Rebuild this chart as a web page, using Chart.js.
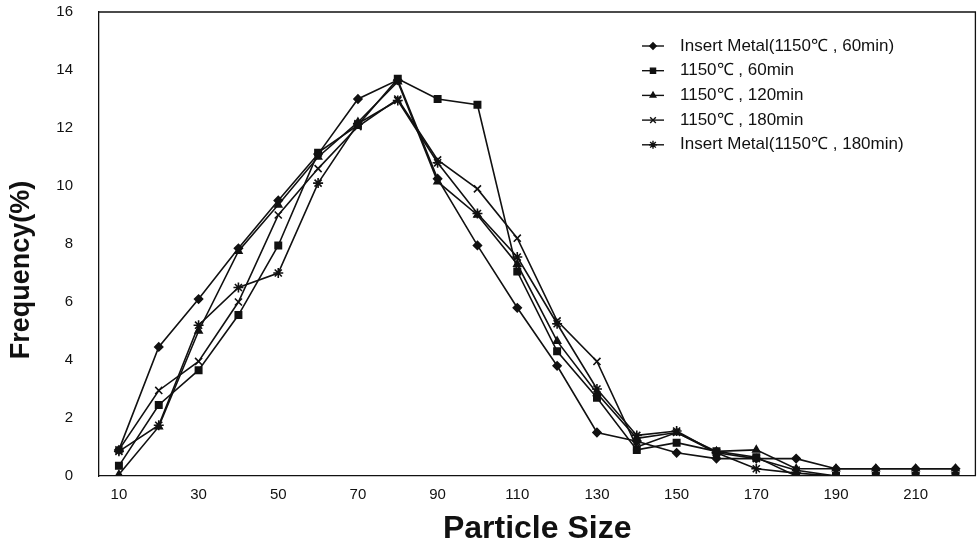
<!DOCTYPE html>
<html>
<head>
<meta charset="utf-8">
<script src="https://cdn.jsdelivr.net/npm/chart.js@4/dist/chart.umd.min.js"></script>
<style>
  html, body { margin: 0; padding: 0; background: #fff; overflow: hidden; width: 978px; height: 548px; }
  #wrap { position: absolute; left: 0; top: -15px; width: 982px; height: 563px; }
</style>
</head>
<body>
<div id="wrap"><canvas id="sizeChart"></canvas></div>
<script>
const sizes = [10, 20, 30, 40, 50, 60, 70, 80, 90, 100, 110, 120, 130, 140, 150, 160, 170, 180, 190, 200, 210, 220]

const insert60 = [0.9, 4.45, 6.1, 7.85, 9.5, 11.1, 13.0, 13.65, 10.25, 7.95, 5.8, 3.8, 1.5, 1.2, 0.8, 0.6, 0.6, 0.6, 0.25, 0.25, 0.25, 0.25]
const run60 = [0.35, 2.45, 3.65, 5.55, 7.95, 11.15, 12.1, 13.7, 13.0, 12.8, 7.05, 4.3, 2.7, 0.9, 1.15, 0.85, 0.65, 0, 0, 0, 0, 0]
const run120 = [0.05, 1.7, 5.0, 7.75, 9.35, 11.0, 12.2, 13.6, 10.15, 9.0, 7.3, 4.65, 2.85, 1.3, 1.5, 0.85, 0.9, 0.25, 0.25, 0.25, 0.25, 0.25]
const run180 = [0.9, 2.95, 3.95, 6.0, 9.0, 10.6, 12.05, 13.0, 10.9, 9.9, 8.2, 5.35, 3.95, 1.0, 1.5, 0.8, 0.6, 0.2, 0, 0, 0, 0]
const insert180 = [0.85, 1.75, 5.2, 6.5, 7.0, 10.1, 12.15, 12.95, 10.8, 9.05, 7.55, 5.25, 3.0, 1.4, 1.55, 0.8, 0.25, 0.1, 0, 0, 0, 0]

const tickLabels = ['10', '30', '50', '70', '90', '110', '130', '150', '170', '190', '210']

const ink = '#111'
const sans = '"Liberation Sans", Arial, sans-serif'
const shiftY = 15 // canvas sits 15px above the page top

function series(label, data, style, radius) {
    return {
        label: label,
        data: data,
        borderColor: ink,
        backgroundColor: ink,
        borderWidth: 1.6,
        pointStyle: style,
        pointRadius: radius,
        pointBorderWidth: 1.6,
        pointBorderColor: ink,
        pointBackgroundColor: ink,
        tension: 0
    }
}

// frame round the plot, y title and the legend inside it
const framePlugin = {
    id: 'frame',
    beforeDatasetsDraw(chart) {
        const a = chart.chartArea
        const c = chart.ctx
        c.save()
        c.strokeStyle = ink
        c.lineWidth = 1.3
        c.beginPath()
        c.moveTo(a.left, a.top)
        c.lineTo(a.right, a.top)
        c.lineTo(a.right, a.bottom)
        c.stroke()
        c.restore()
    },
    afterDraw(chart) {
        const c = chart.ctx
        c.save()
        c.fillStyle = ink
        c.font = 'bold 27px ' + sans
        c.textAlign = 'center'
        c.textBaseline = 'middle'
        c.translate(22, 270 + shiftY)
        c.rotate(-Math.PI / 2)
        c.fillText('Frequency(%)', 0, 0)
        c.restore()

        const x0 = 642, y0 = 46 + shiftY, gap = 24.7
        c.save()
        c.font = '17px ' + sans
        c.textBaseline = 'middle'
        c.fillStyle = ink
        chart.data.datasets.forEach((ds, i) => {
            const y = y0 + i * gap
            c.strokeStyle = ink
            c.lineWidth = 1.4
            c.beginPath()
            c.moveTo(x0, y)
            c.lineTo(x0 + 22, y)
            c.stroke()
            Chart.helpers.drawPoint(c, {
                pointStyle: ds.pointStyle,
                radius: ds.pointRadius * 0.8,
                borderWidth: 1.4
            }, x0 + 11, y)
            c.fillText(ds.label, x0 + 38, y)
        })
        c.restore()
    }
}

new Chart(document.getElementById('sizeChart'), {
    type: 'line',
    data: {
        labels: sizes,
        datasets: [
            series('Insert Metal(1150℃ , 60min)', insert60, 'rectRot', 4),
            series('1150℃ , 60min', run60, 'rect', 4.5),
            series('1150℃ , 120min', run120, 'triangle', 4),
            series('1150℃ , 180min', run180, 'crossRot', 5),
            series('Insert Metal(1150℃ , 180min)', insert180, 'star', 5)
        ]
    },
    options: {
        responsive: true,
        maintainAspectRatio: false,
        animation: false,
        layout: { padding: 0 },
        plugins: {
            legend: { display: false },
            tooltip: { enabled: false }
        },
        scales: {
            x: {
                type: 'category',
                offset: true,
                grid: { display: false, offset: true },
                border: { display: true, color: ink, width: 1.3 },
                ticks: {
                    autoSkip: false,
                    maxRotation: 0,
                    padding: 2,
                    color: ink,
                    font: { family: sans, size: 15 },
                    callback: function (v, i) {
                        const s = String(sizes[i])
                        return tickLabels.includes(s) ? s : ''
                    }
                },
                title: {
                    display: true,
                    text: 'Particle Size',
                    color: ink,
                    padding: { top: 4, bottom: 0 },
                    font: { family: sans, size: 32, weight: 'bold' }
                },
                afterFit: s => { s.height = 72 }
            },
            y: {
                min: 0,
                max: 16,
                grid: { display: false },
                border: { display: true, color: ink, width: 1.3 },
                ticks: {
                    stepSize: 2,
                    padding: 18,
                    color: ink,
                    font: { family: sans, size: 15 }
                },
                afterFit: s => { s.width = 99 }
            }
        }
    },
    plugins: [framePlugin]
})
</script>
</body>
</html>
